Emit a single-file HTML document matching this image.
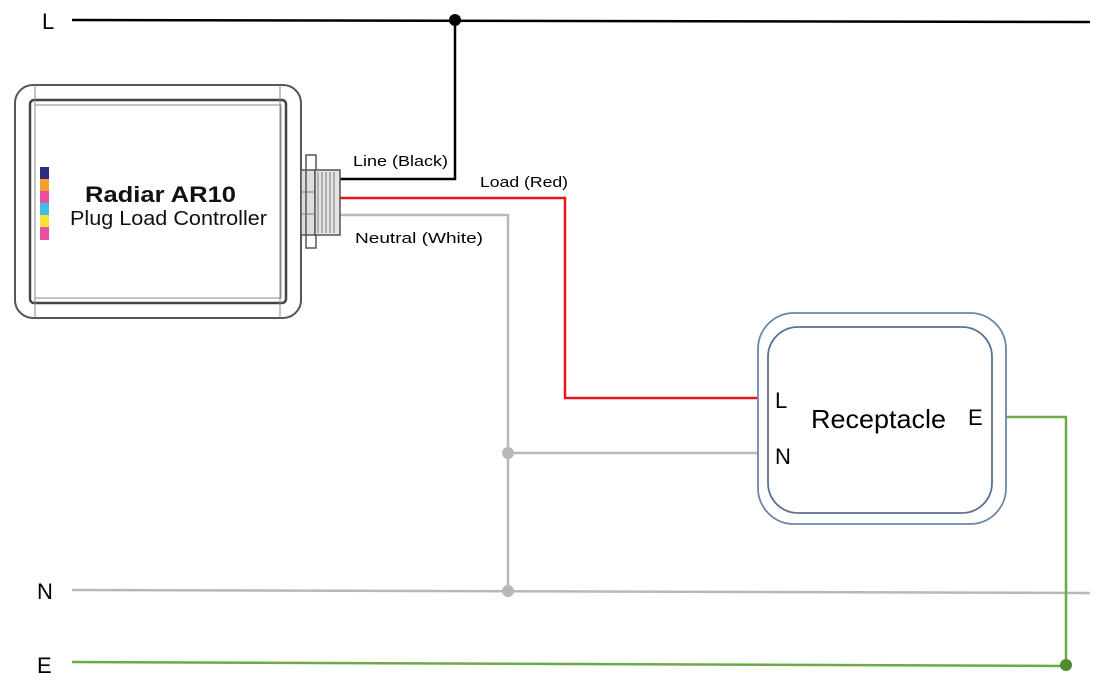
<!DOCTYPE html>
<html><head><meta charset="utf-8"><style>
html,body{margin:0;padding:0;background:#fff}
svg{display:block}
text{font-family:"Liberation Sans",sans-serif}
</style></head><body>
<svg width="1111" height="682" viewBox="0 0 1111 682" xmlns="http://www.w3.org/2000/svg">
<line x1="72" y1="20" x2="1090" y2="22" stroke="#000" stroke-width="2.5"/>
<line x1="72" y1="590" x2="1090" y2="593" stroke="#b8b8b8" stroke-width="2.5"/>
<line x1="72" y1="662" x2="1066" y2="666" stroke="#6aab45" stroke-width="2.5"/>
<text x="42" y="29" font-size="22">L</text>
<text x="37" y="599" font-size="22">N</text>
<text x="37" y="673" font-size="22">E</text>
<polyline points="340,179 455,179 455,20" fill="none" stroke="#000" stroke-width="2.5"/>
<circle cx="455" cy="20" r="6" fill="#000"/>
<polyline points="340,198 565,198 565,398 758,398" fill="none" stroke="#e8141c" stroke-width="2.5"/>
<polyline points="340,215 508,215 508,591" fill="none" stroke="#b8b8b8" stroke-width="2.5"/>
<line x1="508" y1="453" x2="758" y2="453" stroke="#b8b8b8" stroke-width="2.5"/>
<circle cx="508" cy="453" r="6" fill="#b8b8b8"/>
<circle cx="508" cy="591" r="6" fill="#b8b8b8"/>
<polyline points="1006,417 1066,417 1066,666" fill="none" stroke="#6aab45" stroke-width="2.5"/>
<circle cx="1066" cy="665" r="6" fill="#4e8a30"/>
<text x="353" y="166" font-size="15" textLength="95" lengthAdjust="spacingAndGlyphs">Line (Black)</text>
<text x="480" y="187" font-size="15" textLength="88" lengthAdjust="spacingAndGlyphs">Load (Red)</text>
<text x="355" y="243" font-size="15" textLength="128" lengthAdjust="spacingAndGlyphs">Neutral (White)</text>
<rect x="15" y="85" width="286" height="233" rx="18" fill="#fff" stroke="#555" stroke-width="2"/>
<rect x="30" y="100" width="256" height="203" rx="4" fill="#fff" stroke="#444" stroke-width="2.5"/>
<rect x="35" y="105" width="246" height="193" fill="none" stroke="#888" stroke-width="1"/>
<line x1="35" y1="85" x2="35" y2="318" stroke="#888" stroke-width="1"/>
<line x1="280" y1="85" x2="280" y2="318" stroke="#888" stroke-width="1"/>
<rect x="40" y="167" width="9" height="12" fill="#2b2a85"/>
<rect x="40" y="179" width="9" height="12" fill="#f5a02a"/>
<rect x="40" y="191" width="9" height="12" fill="#ec4fa0"/>
<rect x="40" y="203" width="9" height="12" fill="#3fbde6"/>
<rect x="40" y="215" width="9" height="12" fill="#f7e43a"/>
<rect x="40" y="227" width="9" height="13" fill="#ec4fa0"/>
<text x="85" y="202" font-size="22" font-weight="bold" fill="#111" textLength="151" lengthAdjust="spacingAndGlyphs">Radiar AR10</text>
<text x="70" y="225" font-size="20" fill="#111" textLength="197" lengthAdjust="spacingAndGlyphs">Plug Load Controller</text>
<rect x="301" y="170" width="14" height="65" fill="#ddd" stroke="#555" stroke-width="1.5"/>
<rect x="306" y="155" width="10" height="93" fill="none" stroke="#555" stroke-width="1.5"/>
<rect x="315" y="170" width="25" height="65" fill="#e4e4e4" stroke="#555" stroke-width="1.5"/>
<g stroke="#777" stroke-width="1">
<line x1="318" y1="172" x2="318" y2="233"/><line x1="322" y1="172" x2="322" y2="233"/>
<line x1="326" y1="172" x2="326" y2="233"/><line x1="330" y1="172" x2="330" y2="233"/>
<line x1="334" y1="172" x2="334" y2="233"/>
<line x1="301" y1="192" x2="315" y2="192"/><line x1="301" y1="214" x2="315" y2="214"/>
</g>
<rect x="758" y="313" width="248" height="211" rx="36" fill="#fff" stroke="#6a86a8" stroke-width="1.8"/>
<rect x="768" y="327" width="224" height="186" rx="30" fill="#fff" stroke="#5a7090" stroke-width="1.8"/>
<text x="775" y="408" font-size="22">L</text>
<text x="775" y="464" font-size="22">N</text>
<text x="811" y="428" font-size="26" textLength="135" lengthAdjust="spacingAndGlyphs">Receptacle</text>
<text x="968" y="425" font-size="22">E</text>
</svg>
</body></html>
